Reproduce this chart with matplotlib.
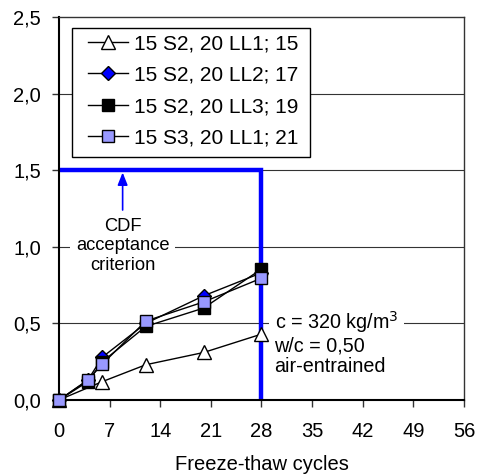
import matplotlib
matplotlib.use("Agg")
import matplotlib.pyplot as plt
from matplotlib.patches import Rectangle
from matplotlib.ticker import FuncFormatter

plt.rcParams['font.family'] = ['Liberation Sans', 'DejaVu Sans']

# Scaling vs freeze-thaw cycles
cycles_a = [0, 6, 12, 20, 28]
series_15 = [0.0, 0.12, 0.23, 0.31, 0.43]

cycles_b = [0, 4, 6, 12, 20, 28]
series_17 = [0.0, 0.13, 0.28, 0.50, 0.68, 0.83]
series_19 = [0.0, 0.12, 0.25, 0.48, 0.60, 0.855]
series_21 = [0.0, 0.13, 0.235, 0.515, 0.64, 0.795]

labels = ["15 S2, 20 LL1; 15", "15 S2, 20 LL2; 17",
          "15 S2, 20 LL3; 19", "15 S3, 20 LL1; 21"]

x_ticks = [0, 7, 14, 21, 28, 35, 42, 49, 56]
y_ticks = [0.0, 0.5, 1.0, 1.5, 2.0, 2.5]

criterion_level = 1.5
criterion_cycles = 28

fig = plt.figure(figsize=(4.78, 4.76), dpi=100)
ax = fig.add_axes([0.1234, 0.1597, 0.9707 - 0.1234, 0.9643 - 0.1597])
ax.set_xlim(0, 56)
ax.set_ylim(0, 2.5)

FS = 15

# horizontal gridlines
for yv in y_ticks[1:-1]:
    ax.axhline(yv, color='#333333', lw=0.8, zorder=1)

# acceptance criterion
ax.plot([0, criterion_cycles, criterion_cycles], [criterion_level, criterion_level, 0],
        color='#0000FF', lw=3.2, solid_joinstyle='miter', solid_capstyle='butt',
        zorder=2, clip_on=False)

ax.annotate("", xy=(8.8, 1.485), xytext=(8.8, 1.24),
            arrowprops=dict(arrowstyle='-|>,head_length=0.75,head_width=0.3',
                            color='#0000FF', lw=1.2, shrinkA=0, shrinkB=0),
            zorder=3)
ax.text(8.8, 1.19, "CDF\nacceptance\ncriterion", ha='center', va='top',
        fontsize=13.2, linespacing=1.2, zorder=3,
        bbox=dict(boxstyle='square,pad=0.3', fc='white', ec='none'))

ax.text(29.8, 0.59, "c = 320 kg/m$^{3}$\nw/c = 0,50\nair-entrained",
        ha='left', va='top', fontsize=14.2, linespacing=1.1, zorder=3,
        bbox=dict(boxstyle='square,pad=0.3', fc='white', ec='none'))

common = dict(color='black', lw=1.0, zorder=5, clip_on=False, markeredgecolor='black',
              markeredgewidth=1.0)
ax.plot(cycles_a, series_15, marker='^', markersize=10, markerfacecolor='white',
        label=labels[0], **common)
ax.plot(cycles_b, series_17, marker='D', markersize=7.5, markerfacecolor='#0000FF',
        label=labels[1], **common)
ax.plot(cycles_b, series_19, marker='s', markersize=8.5, markerfacecolor='black',
        label=labels[2], **common)
ax.plot(cycles_b, series_21, marker='s', markersize=8.5, markerfacecolor='#9999FF',
        label=labels[3], **common)

# legend box with a roomier frame
ax.add_patch(Rectangle((0.032, 0.6345), 0.5878, 0.3368, transform=ax.transAxes,
                       fc='white', ec='black', lw=1.0, zorder=5.5))
leg = ax.legend(loc='upper left', bbox_to_anchor=(0.0716, 0.955), fontsize=FS,
                frameon=False, borderpad=0, labelspacing=0.6,
                handlelength=1.9, handletextpad=0.3, borderaxespad=0)
leg.set_zorder(6)

ax.set_xticks(x_ticks)
ax.set_yticks(y_ticks)
ax.yaxis.set_major_formatter(FuncFormatter(lambda v, p: f"{v:.1f}".replace('.', ',')))
ax.tick_params(axis='both', direction='out', length=5, width=1, labelsize=14.5,
               color='#333333')
ax.tick_params(axis='x', pad=11)
ax.tick_params(axis='y', pad=8)
ax.set_xlabel("Freeze-thaw cycles", fontsize=14.5, labelpad=10)

for side in ['left', 'bottom']:
    ax.spines[side].set_linewidth(1.5)
    ax.spines[side].set_color('black')
for side in ['top', 'right']:
    ax.spines[side].set_linewidth(1.0)
    ax.spines[side].set_color('#333333')

fig.savefig("out.png", dpi=100)
